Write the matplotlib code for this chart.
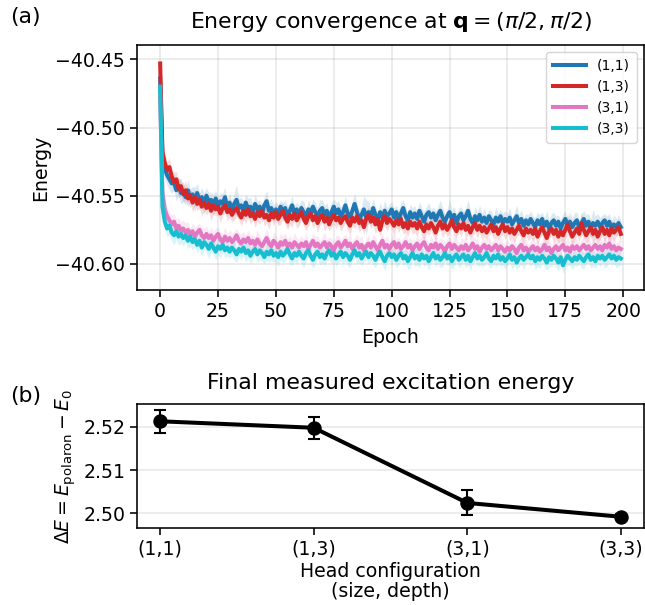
import numpy as np
import matplotlib
matplotlib.use("Agg")
import matplotlib.pyplot as plt
from matplotlib.ticker import MultipleLocator, FuncFormatter

# ---------------- data ----------------
labels = ["(1,1)", "(1,3)", "(3,1)", "(3,3)"]
colors = ["tab:blue", "tab:red", "tab:pink", "tab:cyan"]

E11 = [
    -40.464, -40.522, -40.530, -40.535, -40.538, -40.541, -40.540, -40.546, -40.543, -40.548,
    -40.547, -40.551, -40.546, -40.552, -40.549, -40.553, -40.548, -40.554, -40.551, -40.556,
    -40.550, -40.555, -40.553, -40.557, -40.552, -40.558, -40.554, -40.556, -40.551, -40.559,
    -40.555, -40.560, -40.556, -40.553, -40.559, -40.557, -40.561, -40.555, -40.560, -40.558,
    -40.562, -40.556, -40.560, -40.558, -40.563, -40.557, -40.554, -40.561, -40.559, -40.563,
    -40.560, -40.564, -40.558, -40.562, -40.559, -40.565, -40.561, -40.557, -40.563, -40.560,
    -40.564, -40.559, -40.562, -40.566, -40.560, -40.563, -40.558, -40.562, -40.565, -40.561,
    -40.559, -40.564, -40.561, -40.566, -40.562, -40.558, -40.563, -40.560, -40.565, -40.562,
    -40.557, -40.563, -40.566, -40.561, -40.556, -40.562, -40.567, -40.564, -40.560, -40.566,
    -40.562, -40.565, -40.559, -40.564, -40.568, -40.562, -40.566, -40.561, -40.565, -40.563,
    -40.560, -40.566, -40.562, -40.567, -40.563, -40.559, -40.565, -40.568, -40.562, -40.566,
    -40.563, -40.567, -40.561, -40.565, -40.569, -40.564, -40.562, -40.566, -40.563, -40.568,
    -40.564, -40.561, -40.566, -40.569, -40.565, -40.562, -40.567, -40.564, -40.570, -40.565,
    -40.563, -40.568, -40.565, -40.561, -40.567, -40.570, -40.565, -40.568, -40.564, -40.569,
    -40.566, -40.570, -40.565, -40.568, -40.571, -40.566, -40.569, -40.565, -40.570, -40.567,
    -40.569, -40.566, -40.571, -40.568, -40.565, -40.570, -40.567, -40.572, -40.568, -40.571,
    -40.567, -40.570, -40.573, -40.568, -40.571, -40.567, -40.572, -40.569, -40.574, -40.570,
    -40.568, -40.572, -40.569, -40.574, -40.570, -40.567, -40.572, -40.569, -40.573, -40.570,
    -40.568, -40.573, -40.570, -40.567, -40.572, -40.569, -40.574, -40.570, -40.572, -40.569,
    -40.573, -40.570, -40.568, -40.572, -40.569, -40.574, -40.571, -40.573, -40.570, -40.573,
]
E13 = [
    -40.453, -40.518, -40.526, -40.531, -40.529, -40.536, -40.540, -40.538, -40.545, -40.543,
    -40.549, -40.546, -40.552, -40.550, -40.555, -40.551, -40.556, -40.553, -40.558, -40.555,
    -40.559, -40.556, -40.561, -40.557, -40.560, -40.558, -40.563, -40.559, -40.557, -40.562,
    -40.560, -40.564, -40.561, -40.559, -40.563, -40.566, -40.561, -40.564, -40.560, -40.565,
    -40.563, -40.567, -40.562, -40.565, -40.561, -40.566, -40.564, -40.568, -40.563, -40.566,
    -40.562, -40.567, -40.564, -40.561, -40.566, -40.569, -40.564, -40.567, -40.563, -40.568,
    -40.565, -40.562, -40.567, -40.570, -40.565, -40.563, -40.568, -40.565, -40.570, -40.566,
    -40.564, -40.569, -40.566, -40.571, -40.567, -40.564, -40.568, -40.566, -40.570, -40.567,
    -40.565, -40.569, -40.572, -40.566, -40.569, -40.565, -40.570, -40.568, -40.573, -40.567,
    -40.564, -40.569, -40.566, -40.571, -40.567, -40.575, -40.568, -40.565, -40.570, -40.567,
    -40.569, -40.572, -40.568, -40.571, -40.567, -40.573, -40.570, -40.574, -40.569, -40.572,
    -40.570, -40.574, -40.569, -40.573, -40.576, -40.571, -40.574, -40.570, -40.573, -40.577,
    -40.572, -40.569, -40.574, -40.571, -40.575, -40.572, -40.568, -40.573, -40.576, -40.571,
    -40.574, -40.570, -40.575, -40.572, -40.577, -40.573, -40.570, -40.575, -40.572, -40.576,
    -40.573, -40.577, -40.574, -40.571, -40.576, -40.573, -40.578, -40.574, -40.571, -40.576,
    -40.573, -40.577, -40.574, -40.578, -40.575, -40.572, -40.576, -40.579, -40.574, -40.577,
    -40.575, -40.578, -40.574, -40.580, -40.576, -40.573, -40.577, -40.581, -40.576, -40.574,
    -40.578, -40.575, -40.580, -40.576, -40.579, -40.575, -40.571, -40.576, -40.580, -40.577,
    -40.574, -40.578, -40.570, -40.575, -40.579, -40.576, -40.573, -40.578, -40.575, -40.580,
    -40.576, -40.573, -40.578, -40.575, -40.579, -40.574, -40.577, -40.575, -40.573, -40.578,
]
E31 = [
    -40.478, -40.548, -40.560, -40.565, -40.568, -40.571, -40.569, -40.574, -40.572, -40.576,
    -40.574, -40.577, -40.575, -40.579, -40.576, -40.580, -40.577, -40.575, -40.579, -40.581,
    -40.578, -40.581, -40.579, -40.583, -40.580, -40.578, -40.582, -40.584, -40.580, -40.583,
    -40.581, -40.584, -40.582, -40.579, -40.583, -40.585, -40.582, -40.584, -40.581, -40.585,
    -40.583, -40.586, -40.582, -40.585, -40.587, -40.584, -40.581, -40.585, -40.587, -40.583,
    -40.585, -40.588, -40.584, -40.586, -40.583, -40.587, -40.585, -40.588, -40.584, -40.586,
    -40.588, -40.585, -40.587, -40.584, -40.589, -40.586, -40.583, -40.587, -40.585, -40.588,
    -40.586, -40.584, -40.588, -40.585, -40.587, -40.590, -40.586, -40.584, -40.588, -40.586,
    -40.583, -40.587, -40.585, -40.589, -40.586, -40.584, -40.588, -40.586, -40.590, -40.587,
    -40.585, -40.588, -40.584, -40.587, -40.590, -40.586, -40.583, -40.588, -40.586, -40.589,
    -40.586, -40.584, -40.588, -40.585, -40.589, -40.587, -40.584, -40.588, -40.586, -40.590,
    -40.587, -40.585, -40.589, -40.586, -40.584, -40.588, -40.590, -40.586, -40.588, -40.585,
    -40.589, -40.586, -40.588, -40.591, -40.587, -40.585, -40.589, -40.586, -40.588, -40.590,
    -40.587, -40.589, -40.586, -40.590, -40.588, -40.585, -40.589, -40.587, -40.591, -40.588,
    -40.586, -40.589, -40.587, -40.590, -40.588, -40.586, -40.590, -40.587, -40.589, -40.591,
    -40.588, -40.590, -40.587, -40.589, -40.592, -40.588, -40.586, -40.590, -40.588, -40.591,
    -40.589, -40.587, -40.590, -40.588, -40.591, -40.589, -40.586, -40.590, -40.588, -40.592,
    -40.589, -40.587, -40.590, -40.588, -40.586, -40.590, -40.588, -40.591, -40.587, -40.589,
    -40.587, -40.590, -40.588, -40.586, -40.589, -40.587, -40.590, -40.588, -40.586, -40.589,
    -40.587, -40.590, -40.586, -40.588, -40.585, -40.589, -40.587, -40.590, -40.588, -40.589,
]
E33 = [
    -40.470, -40.558, -40.569, -40.574, -40.572, -40.577, -40.579, -40.576, -40.580, -40.578,
    -40.581, -40.579, -40.583, -40.580, -40.584, -40.582, -40.586, -40.583, -40.588, -40.584,
    -40.586, -40.589, -40.585, -40.588, -40.591, -40.587, -40.589, -40.586, -40.590, -40.588,
    -40.591, -40.588, -40.590, -40.593, -40.589, -40.591, -40.588, -40.592, -40.590, -40.594,
    -40.591, -40.589, -40.593, -40.590, -40.592, -40.595, -40.591, -40.593, -40.590, -40.594,
    -40.592, -40.595, -40.591, -40.594, -40.592, -40.589, -40.593, -40.596, -40.592, -40.594,
    -40.591, -40.594, -40.596, -40.592, -40.590, -40.594, -40.597, -40.593, -40.591, -40.595,
    -40.593, -40.596, -40.592, -40.590, -40.594, -40.592, -40.596, -40.593, -40.591, -40.595,
    -40.592, -40.594, -40.597, -40.593, -40.590, -40.594, -40.592, -40.596, -40.593, -40.591,
    -40.595, -40.592, -40.594, -40.597, -40.593, -40.591, -40.595, -40.598, -40.594, -40.592,
    -40.595, -40.593, -40.597, -40.594, -40.592, -40.596, -40.594, -40.598, -40.595, -40.592,
    -40.596, -40.594, -40.597, -40.593, -40.596, -40.594, -40.598, -40.595, -40.592, -40.596,
    -40.594, -40.597, -40.595, -40.592, -40.596, -40.594, -40.598, -40.595, -40.593, -40.597,
    -40.595, -40.593, -40.597, -40.594, -40.598, -40.595, -40.592, -40.596, -40.594, -40.597,
    -40.595, -40.592, -40.596, -40.598, -40.594, -40.596, -40.593, -40.597, -40.595, -40.598,
    -40.596, -40.593, -40.597, -40.595, -40.599, -40.596, -40.594, -40.597, -40.595, -40.593,
    -40.596, -40.594, -40.598, -40.595, -40.597, -40.594, -40.596, -40.599, -40.595, -40.597,
    -40.594, -40.596, -40.599, -40.595, -40.601, -40.597, -40.594, -40.596, -40.598, -40.595,
    -40.597, -40.594, -40.596, -40.598, -40.595, -40.593, -40.597, -40.595, -40.598, -40.594,
    -40.596, -40.594, -40.597, -40.595, -40.593, -40.596, -40.594, -40.597, -40.595, -40.596,
]

S11 = [
    0.005, 0.009, 0.008, 0.007, 0.008, 0.007, 0.006, 0.008, 0.007, 0.008,
    0.007, 0.006, 0.008, 0.007, 0.006, 0.009, 0.007, 0.006, 0.007, 0.008,
    0.006, 0.007, 0.005, 0.008, 0.006, 0.007, 0.006, 0.008, 0.007, 0.006,
    0.007, 0.006, 0.008, 0.011, 0.007, 0.006, 0.007, 0.006, 0.008, 0.007,
    0.006, 0.007, 0.006, 0.005, 0.007, 0.006, 0.008, 0.006, 0.007, 0.006,
    0.006, 0.007, 0.005, 0.007, 0.006, 0.008, 0.006, 0.007, 0.006, 0.005,
    0.007, 0.006, 0.008, 0.006, 0.007, 0.005, 0.006, 0.007, 0.006, 0.008,
    0.006, 0.007, 0.006, 0.005, 0.007, 0.006, 0.008, 0.006, 0.007, 0.006,
    0.007, 0.006, 0.005, 0.007, 0.008, 0.006, 0.007, 0.006, 0.010, 0.013,
    0.008, 0.006, 0.007, 0.006, 0.005, 0.007, 0.006, 0.008, 0.006, 0.007,
    0.006, 0.007, 0.005, 0.006, 0.008, 0.006, 0.007, 0.005, 0.006, 0.007,
    0.006, 0.005, 0.007, 0.006, 0.008, 0.006, 0.007, 0.006, 0.005, 0.007,
    0.006, 0.008, 0.007, 0.006, 0.005, 0.010, 0.007, 0.006, 0.007, 0.006,
    0.005, 0.007, 0.006, 0.008, 0.006, 0.005, 0.007, 0.006, 0.007, 0.006,
    0.007, 0.006, 0.005, 0.007, 0.006, 0.008, 0.006, 0.005, 0.007, 0.006,
    0.006, 0.007, 0.005, 0.006, 0.008, 0.006, 0.007, 0.006, 0.005, 0.007,
    0.006, 0.005, 0.007, 0.006, 0.007, 0.005, 0.006, 0.008, 0.006, 0.007,
    0.006, 0.007, 0.005, 0.006, 0.007, 0.006, 0.005, 0.007, 0.006, 0.008,
    0.006, 0.005, 0.007, 0.006, 0.008, 0.006, 0.007, 0.010, 0.007, 0.006,
    0.007, 0.006, 0.005, 0.007, 0.006, 0.005, 0.007, 0.006, 0.006, 0.005,
]
S13 = [
    0.003, 0.007, 0.007, 0.006, 0.007, 0.006, 0.007, 0.006, 0.007, 0.006,
    0.006, 0.007, 0.006, 0.005, 0.007, 0.006, 0.005, 0.006, 0.007, 0.006,
    0.005, 0.006, 0.007, 0.006, 0.005, 0.006, 0.007, 0.005, 0.006, 0.006,
    0.006, 0.005, 0.007, 0.006, 0.005, 0.006, 0.007, 0.006, 0.005, 0.006,
    0.005, 0.006, 0.007, 0.006, 0.005, 0.006, 0.006, 0.007, 0.005, 0.006,
    0.006, 0.005, 0.007, 0.006, 0.005, 0.006, 0.007, 0.006, 0.005, 0.006,
    0.007, 0.006, 0.005, 0.006, 0.007, 0.005, 0.006, 0.006, 0.007, 0.005,
    0.006, 0.007, 0.006, 0.005, 0.006, 0.007, 0.006, 0.005, 0.006, 0.006,
    0.005, 0.006, 0.007, 0.006, 0.005, 0.006, 0.007, 0.006, 0.005, 0.006,
    0.006, 0.005, 0.006, 0.007, 0.006, 0.005, 0.006, 0.007, 0.006, 0.005,
    0.006, 0.007, 0.005, 0.006, 0.006, 0.005, 0.007, 0.006, 0.005, 0.006,
    0.007, 0.006, 0.005, 0.006, 0.007, 0.006, 0.005, 0.006, 0.007, 0.006,
    0.005, 0.006, 0.007, 0.006, 0.005, 0.006, 0.006, 0.007, 0.005, 0.006,
    0.006, 0.005, 0.007, 0.006, 0.005, 0.006, 0.007, 0.006, 0.005, 0.006,
    0.007, 0.006, 0.005, 0.006, 0.006, 0.007, 0.005, 0.006, 0.007, 0.006,
    0.005, 0.006, 0.007, 0.006, 0.005, 0.006, 0.006, 0.007, 0.005, 0.006,
    0.006, 0.005, 0.007, 0.006, 0.005, 0.006, 0.007, 0.006, 0.005, 0.006,
    0.007, 0.006, 0.005, 0.006, 0.007, 0.006, 0.008, 0.006, 0.007, 0.006,
    0.005, 0.006, 0.008, 0.006, 0.005, 0.007, 0.006, 0.007, 0.006, 0.005,
    0.006, 0.007, 0.006, 0.005, 0.006, 0.007, 0.006, 0.005, 0.006, 0.006,
]
S31 = [
    0.005, 0.008, 0.007, 0.007, 0.006, 0.007, 0.006, 0.007, 0.006, 0.007,
    0.006, 0.007, 0.006, 0.005, 0.006, 0.007, 0.006, 0.005, 0.006, 0.007,
    0.006, 0.005, 0.006, 0.007, 0.006, 0.005, 0.006, 0.006, 0.007, 0.005,
    0.006, 0.007, 0.006, 0.005, 0.006, 0.007, 0.006, 0.005, 0.006, 0.006,
    0.005, 0.006, 0.007, 0.006, 0.005, 0.006, 0.007, 0.006, 0.005, 0.006,
    0.006, 0.005, 0.006, 0.007, 0.006, 0.005, 0.006, 0.006, 0.007, 0.005,
    0.006, 0.006, 0.005, 0.007, 0.006, 0.005, 0.006, 0.007, 0.006, 0.005,
    0.006, 0.007, 0.006, 0.005, 0.006, 0.006, 0.007, 0.005, 0.006, 0.006,
    0.005, 0.006, 0.007, 0.006, 0.005, 0.006, 0.006, 0.007, 0.005, 0.006,
    0.006, 0.005, 0.006, 0.007, 0.006, 0.005, 0.006, 0.006, 0.007, 0.005,
    0.006, 0.007, 0.006, 0.005, 0.006, 0.006, 0.007, 0.005, 0.006, 0.006,
    0.005, 0.006, 0.007, 0.006, 0.005, 0.006, 0.006, 0.007, 0.005, 0.006,
    0.006, 0.005, 0.006, 0.007, 0.006, 0.005, 0.006, 0.006, 0.007, 0.005,
    0.006, 0.007, 0.006, 0.005, 0.006, 0.006, 0.007, 0.005, 0.006, 0.006,
    0.005, 0.006, 0.007, 0.006, 0.005, 0.006, 0.006, 0.007, 0.005, 0.006,
    0.006, 0.005, 0.006, 0.007, 0.006, 0.005, 0.006, 0.006, 0.007, 0.005,
    0.006, 0.007, 0.006, 0.005, 0.006, 0.006, 0.007, 0.005, 0.006, 0.006,
    0.005, 0.006, 0.007, 0.006, 0.005, 0.006, 0.008, 0.007, 0.005, 0.006,
    0.006, 0.005, 0.006, 0.007, 0.006, 0.005, 0.006, 0.006, 0.007, 0.005,
    0.006, 0.007, 0.006, 0.005, 0.006, 0.006, 0.007, 0.005, 0.006, 0.006,
]
S33 = [
    0.004, 0.008, 0.007, 0.006, 0.007, 0.006, 0.007, 0.006, 0.006, 0.007,
    0.006, 0.005, 0.006, 0.007, 0.006, 0.005, 0.006, 0.006, 0.007, 0.005,
    0.006, 0.007, 0.006, 0.005, 0.006, 0.006, 0.007, 0.005, 0.006, 0.006,
    0.005, 0.006, 0.007, 0.006, 0.005, 0.006, 0.006, 0.007, 0.005, 0.006,
    0.006, 0.005, 0.006, 0.007, 0.006, 0.005, 0.006, 0.006, 0.007, 0.005,
    0.006, 0.007, 0.006, 0.005, 0.006, 0.006, 0.007, 0.005, 0.006, 0.006,
    0.005, 0.006, 0.007, 0.006, 0.005, 0.006, 0.006, 0.007, 0.005, 0.006,
    0.006, 0.005, 0.006, 0.007, 0.006, 0.005, 0.006, 0.006, 0.007, 0.005,
    0.006, 0.007, 0.006, 0.005, 0.006, 0.006, 0.007, 0.005, 0.006, 0.006,
    0.005, 0.006, 0.007, 0.006, 0.005, 0.006, 0.006, 0.007, 0.005, 0.006,
    0.006, 0.005, 0.006, 0.007, 0.006, 0.005, 0.006, 0.006, 0.008, 0.005,
    0.006, 0.007, 0.006, 0.005, 0.006, 0.006, 0.007, 0.005, 0.006, 0.006,
    0.005, 0.006, 0.007, 0.006, 0.005, 0.006, 0.006, 0.007, 0.005, 0.006,
    0.006, 0.005, 0.006, 0.007, 0.006, 0.005, 0.006, 0.006, 0.007, 0.005,
    0.006, 0.007, 0.006, 0.005, 0.006, 0.006, 0.007, 0.005, 0.006, 0.006,
    0.005, 0.006, 0.007, 0.006, 0.005, 0.006, 0.006, 0.007, 0.005, 0.006,
    0.006, 0.005, 0.006, 0.007, 0.006, 0.005, 0.006, 0.006, 0.007, 0.005,
    0.006, 0.007, 0.006, 0.005, 0.006, 0.006, 0.007, 0.005, 0.006, 0.006,
    0.005, 0.006, 0.007, 0.006, 0.005, 0.006, 0.006, 0.007, 0.005, 0.006,
    0.006, 0.005, 0.006, 0.007, 0.006, 0.005, 0.006, 0.006, 0.007, 0.005,
]

heads = ["(1,1)", "(1,3)", "(3,1)", "(3,3)"]
dE = [2.5213, 2.5198, 2.5024, 2.4992]
dE_err = [0.0026, 0.0026, 0.0029, 0.0006]

# ---------------- figure ----------------
FS = 13.6
FS_TITLE = 15.8
plt.rcParams.update({
    "font.size": FS,
    "axes.linewidth": 1.15,
    "xtick.major.width": 1.15,
    "ytick.major.width": 1.15,
    "xtick.major.size": 5,
    "ytick.major.size": 5,
})

fig = plt.figure(figsize=(6.45, 6.05), dpi=100)
W, H = 645.0, 605.0
ax1 = fig.add_axes([137 / W, 1 - 290 / H, 507 / W, 245 / H])
ax2 = fig.add_axes([137 / W, 1 - 528 / H, 507 / W, 124 / H])

minus_fmt = FuncFormatter(lambda v, p: f"{v:.2f}".replace("-", "\u2212"))

series = [E11, E13, E31, E33]
stds = [S11, S13, S31, S33]
for y, s, lab, c in zip(series, stds, labels, colors):
    y = np.asarray(y)
    s = np.asarray(s)
    ep = np.arange(len(y))
    ax1.fill_between(ep, y - s, y + s, color=c, alpha=0.16, linewidth=0)
    ax1.plot(ep, y, color=c, lw=2.9, label=lab)

ax1.set_xlim(-10, 209)
ax1.set_ylim(-40.6191, -40.4395)
ax1.yaxis.set_major_locator(MultipleLocator(0.05))
ax1.yaxis.set_major_formatter(minus_fmt)
ax1.xaxis.set_major_locator(MultipleLocator(25))
ax1.grid(True, color="#b0b0b0", alpha=0.3, lw=1.1)
ax1.set_xlabel("Epoch", labelpad=5)
ax1.set_ylabel("Energy")
ax1.set_title(r"Energy convergence at $\mathbf{q} = (\pi/2, \pi/2)$", fontsize=FS_TITLE, pad=12)
ax1.legend(loc="upper right", fontsize=10, handlelength=2.4, framealpha=0.8,
           borderpad=0.5, labelspacing=0.5)

xpos = np.arange(len(heads))
ax2.errorbar(xpos, dE, yerr=dE_err, color="black", marker="o", ms=9.4, lw=2.9,
             elinewidth=1.5, capsize=4, capthick=1.5)
ax2.set_xticks(xpos)
ax2.set_xticklabels(heads)
ax2.set_xlim(-0.15, 3.15)
ax2.set_ylim(2.4966, 2.5253)
ax2.yaxis.set_major_locator(MultipleLocator(0.01))
ax2.yaxis.set_major_formatter(minus_fmt)
ax2.grid(True, axis="y", color="#b0b0b0", alpha=0.3, lw=1.1)
ax2.set_xlabel("Head configuration\n(size, depth)", labelpad=2, linespacing=1.1)
ax2.set_ylabel(r"$\Delta E = E_{\rm polaron} - E_0$")
ax2.set_title("Final measured excitation energy", fontsize=FS_TITLE, pad=11)

fig.text(10 / W, 1 - 17 / H, "(a)", fontsize=FS_TITLE, va="center", ha="left")
fig.text(10 / W, 1 - 396 / H, "(b)", fontsize=FS_TITLE, va="center", ha="left")

fig.savefig("out.png", dpi=100)
